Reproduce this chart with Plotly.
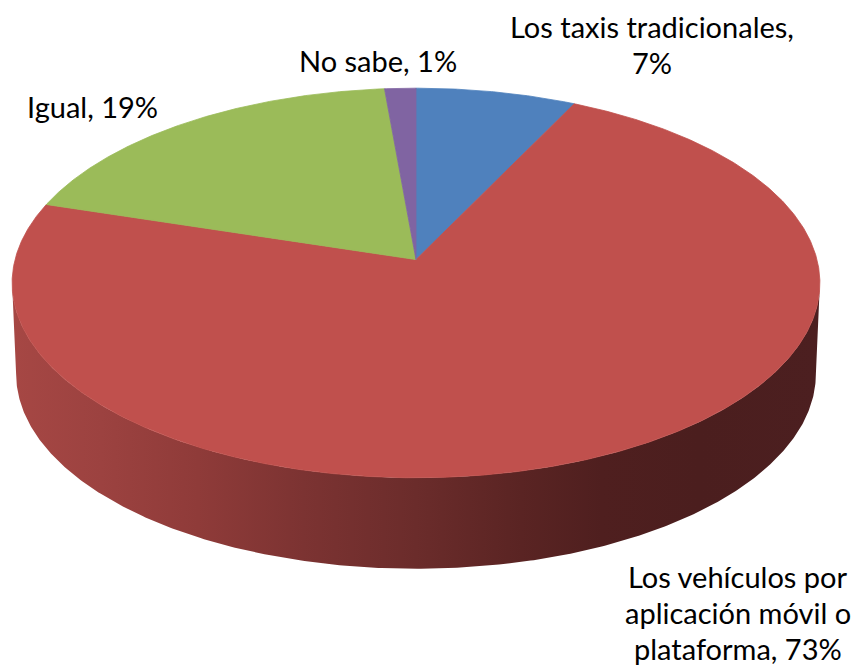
import numpy as np
import plotly.graph_objects as go

# ---- data ----
categories = ["Los taxis tradicionales",
              "Los vehículos por aplicación móvil o plataforma",
              "Igual",
              "No sabe"]
values = [7.2, 72.6, 18.8, 1.4]
slice_colors = ["#4F81BD", "#C0504D", "#9BBB59", "#8064A2"]

# label lines (text split as in the original) and their positions (pixels)
label_lines = [
    ["Los taxis tradicionales,", "7%"],
    ["Los vehículos por", "aplicación móvil o", "plataforma, 73%"],
    ["Igual, 19%"],
    ["No sabe, 1%"],
]
label_pos = [(652, 26), (738, 576), (92, 106), (378, 60)]
LINE_GAP = 36

# ---- pseudo-3D pie geometry (pixel space) ----
W, H = 859, 668
CX, CY = 416, 259.6
A, B = 401, 192
P = 0.12          # perspective strength
DEPTH = 91        # wall height
SHRINK = 0.99     # bottom rim slightly smaller


def proj(theta_deg):
    t = np.radians(theta_deg)
    u = np.sin(t)
    v = -np.cos(t)
    s = 1.0 / (1.0 - P * v)
    return CX + A * u * s, CY + B * v * s


fig = go.Figure()

# side wall (front half)
th = np.linspace(0, 360, 3601)
xa, ya = proj(th)
iR, iL = int(np.argmax(xa)), int(np.argmin(xa))
front = np.linspace(th[iR], th[iL], 400)
xt, yt = proj(front)
xb = CX + (xt - CX) * SHRINK
yb = yt + DEPTH
wx = np.concatenate([xt, xb[::-1], xt[:1]])
wy = np.concatenate([yt, yb[::-1], yt[:1]])
fig.add_trace(go.Scatter(
    x=wx, y=wy, mode="lines", fill="toself",
    line=dict(width=0, color="rgba(0,0,0,0)"),
    fillgradient=dict(type="horizontal", colorscale=[
        [0.0, "#A64744"], [0.11, "#9C4240"], [0.23, "#8F3B39"],
        [0.36, "#7C3332"], [0.5, "#6B2C2B"], [0.63, "#5A2423"],
        [0.73, "#4F1F1F"], [0.85, "#4B1E1E"], [1.0, "#4C1F20"]]),
    hoverinfo="skip", showlegend=False))

# top faces
total = float(sum(values))
cum = np.concatenate([[0], np.cumsum(values)]) / total * 360.0
for i, cat in enumerate(categories):
    arc = np.linspace(cum[i], cum[i + 1], max(int((cum[i + 1] - cum[i]) * 4), 6))
    ax_, ay_ = proj(arc)
    fig.add_trace(go.Scatter(
        x=np.concatenate([[CX], ax_, [CX]]),
        y=np.concatenate([[CY], ay_, [CY]]),
        mode="lines", fill="toself", fillcolor=slice_colors[i],
        line=dict(width=0.8, color=slice_colors[i]),
        name=cat, hoverinfo="name", showlegend=False))

# labels
for lines, (lx, ly) in zip(label_lines, label_pos):
    for k, txt in enumerate(lines):
        fig.add_annotation(x=lx, y=ly + k * LINE_GAP, xref="x", yref="y",
                           text=txt, showarrow=False, xanchor="center",
                           yanchor="middle",
                           font=dict(family="Lato", size=29, color="#000000"))

fig.update_layout(
    width=W, height=H, margin=dict(l=0, r=0, t=0, b=0),
    paper_bgcolor="white", plot_bgcolor="white",
    xaxis=dict(range=[0, W], visible=False, fixedrange=True),
    yaxis=dict(range=[H, 0], visible=False, fixedrange=True),
)
fig.write_html("out.html", config={"displayModeBar": False},
               post_script="document.body.style.margin='0';"
                           "document.body.style.overflow='hidden';")
